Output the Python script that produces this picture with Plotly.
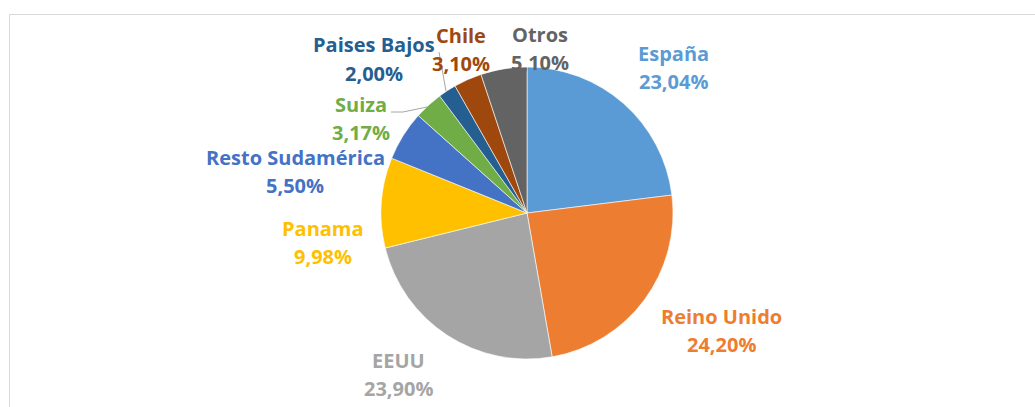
import plotly.graph_objects as go

# ---- data ----
countries = ["España", "Reino Unido", "EEUU", "Panama", "Resto Sudamérica",
             "Suiza", "Paises Bajos", "Chile", "Otros"]
shares = [23.04, 24.20, 23.90, 9.98, 5.50, 3.17, 2.00, 3.10, 5.10]
colors = ["#5B9BD5", "#ED7D31", "#A5A5A5", "#FFC000", "#4472C4",
          "#70AD47", "#255E91", "#9E480E", "#636363"]

# ---- layout helpers (pixel positions of label centres) ----
W, H = 1035, 407
label_pos = {
    "España": (673, 53),
    "Reino Unido": (721, 316),
    "EEUU": (398, 360),
    "Panama": (323, 228),
    "Resto Sudamérica": (295, 157),
    "Suiza": (361, 104),
    "Paises Bajos": (374, 45),
    "Chile": (461, 36),
    "Otros": (540, 34),
}
LINE_GAP = 28

def px(x):
    return x / W

def py(y):
    return 1 - y / H

cx, cy, r = 527, 213, 146

fig = go.Figure(go.Pie(
    labels=countries,
    values=shares,
    marker=dict(colors=colors, line=dict(color="white", width=0.6)),
    sort=False,
    direction="clockwise",
    rotation=0,
    textinfo="none",
    hoverinfo="label+percent",
    domain=dict(x=[px(cx - r), px(cx + r)], y=[py(cy + r), py(cy - r)]),
    showlegend=False,
))

FONT = "Open Sans"
annotations = []
for name, val, col in zip(countries, shares, colors):
    x, y = label_pos[name]
    pct = f"{val:.2f}%".replace(".", ",")
    for k, txt in enumerate([name, pct]):
        annotations.append(dict(
            x=px(x), y=py(y + k * LINE_GAP), xref="paper", yref="paper",
            text=f"<b>{txt}</b>", showarrow=False, xanchor="center", yanchor="middle",
            font=dict(family=FONT, size=20, color=col),
        ))

shapes = [
    # chart frame
    dict(type="rect", xref="paper", yref="paper",
         x0=px(9.5), x1=1.02, y0=-0.02, y1=py(14.5),
         line=dict(color="#D9D9D9", width=1), fillcolor="rgba(0,0,0,0)", layer="below"),
    # leader line Suiza
    dict(type="path", xref="paper", yref="paper",
         path=f"M {px(391)} {py(112)} L {px(403)} {py(112)} L {px(427)} {py(107)}",
         line=dict(color="#A6A6A6", width=1)),
    # leader line Paises Bajos
    dict(type="line", xref="paper", yref="paper",
         x0=px(439), y0=py(52), x1=px(446), y1=py(91),
         line=dict(color="#A6A6A6", width=1)),
]

fig.update_layout(
    width=W, height=H,
    margin=dict(l=0, r=0, t=0, b=0),
    paper_bgcolor="white",
    plot_bgcolor="white",
    annotations=annotations,
    shapes=shapes,
)

fig.write_html(
    "out.html",
    config={"displayModeBar": False},
    post_script="document.body.style.margin='0';document.body.style.overflow='hidden';",
)
